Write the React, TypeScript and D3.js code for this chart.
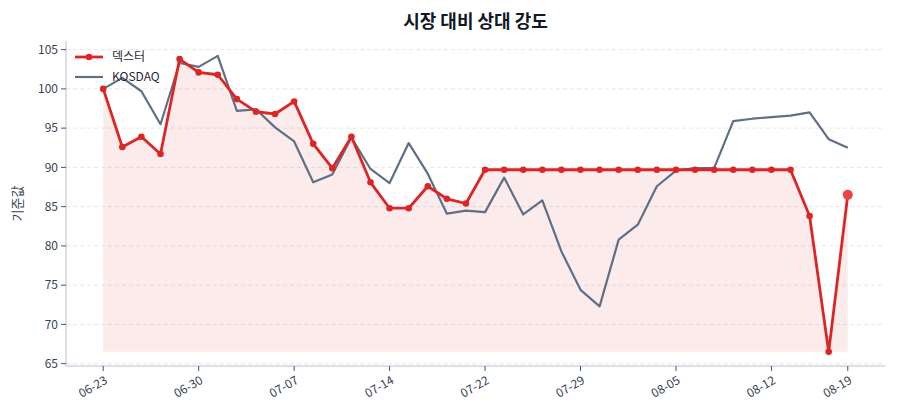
import * as React from 'react';
import * as d3 from 'd3';

// trading-day labels (index positions on the x axis)
const tickIdx = [0, 5, 10, 15, 20, 25, 30, 35, 39];
const tickLabels = ['06-23', '06-30', '07-07', '07-14', '07-22', '07-29', '08-05', '08-12', '08-19'];

const dexter = [
  100, 92.6, 93.9, 91.7, 103.8, 102.1, 101.8, 98.7, 97.1, 96.8,
  98.4, 93.0, 89.9, 93.9, 88.1, 84.8, 84.8, 87.6, 86.0, 85.4,
  89.7, 89.7, 89.7, 89.7, 89.7, 89.7, 89.7, 89.7, 89.7, 89.7,
  89.7, 89.7, 89.7, 89.7, 89.7, 89.7, 89.7, 83.8, 66.5, 86.5,
];

const kosdaq = [
  100, 101.4, 99.7, 95.5, 103.3, 102.8, 104.2, 97.2, 97.4, 95.1,
  93.3, 88.1, 89.1, 93.8, 89.8, 88.0, 93.1, 89.2, 84.1, 84.5,
  84.3, 88.7, 84.0, 85.8, 79.3, 74.4, 72.3, 80.8, 82.7, 87.6,
  89.6, 89.9, 89.9, 95.9, 96.2, 96.4, 96.6, 97.0, 93.6, 92.5,
];

const yTicks = [65, 70, 75, 80, 85, 90, 95, 100, 105];

const RED = '#dc2626';
const SLATE = '#5f6f86';
const FONT = '"Noto Sans CJK KR", "Noto Sans", sans-serif';

export default function App() {
  const width = 900;
  const height = 420;
  const margin = { top: 41, right: 15, bottom: 54, left: 66 };

  const n = dexter.length;
  const pad = (n - 1) * 0.05;
  const x = d3
    .scaleLinear()
    .domain([-pad, n - 1 + pad])
    .range([margin.left, width - margin.right]);

  const y = d3
    .scaleLinear()
    .domain([64.7, 106.1])
    .range([height - margin.bottom, margin.top]);

  const line = d3
    .line<number>()
    .x((_, i) => x(i))
    .y((d) => y(d));

  const minRed = d3.min(dexter) as number;
  const area = d3
    .area<number>()
    .x((_, i) => x(i))
    .y0(y(minRed))
    .y1((d) => y(d));

  const x0 = margin.left;
  const x1 = width - margin.right;
  const yb = height - margin.bottom;

  return (
    <svg
      width={width}
      height={height}
      style={{ position: 'absolute', left: 0, top: 0, background: '#fff' }}
      fontFamily={FONT}
    >
      <text x={(x0 + x1) / 2} y={28} textAnchor="middle" fontSize={18} fontWeight={700} fill="#111827">
        시장 대비 상대 강도
      </text>

      {/* grid */}
      {yTicks.map((t) => (
        <line key={t} x1={x0} x2={x1} y1={y(t)} y2={y(t)} stroke="#e5e7eb" strokeDasharray="4,3" strokeWidth={1} />
      ))}

      <path d={area(dexter) ?? ''} fill={RED} fillOpacity={0.09} />

      <path d={line(kosdaq) ?? ''} fill="none" stroke={SLATE} strokeWidth={2.2} strokeLinejoin="round" />
      <path d={line(dexter) ?? ''} fill="none" stroke={RED} strokeWidth={2.8} strokeLinejoin="round" />
      {dexter.slice(0, n - 1).map((d, i) => (
        <circle key={i} cx={x(i)} cy={y(d)} r={3.3} fill={RED} />
      ))}
      <circle cx={x(n - 1)} cy={y(dexter[n - 1])} r={5} fill="#ef4444" />

      {/* spines */}
      <line x1={x0} x2={x0} y1={margin.top} y2={yb} stroke="#cfd6e0" strokeWidth={1.5} />
      <line x1={x0} x2={x1} y1={yb} y2={yb} stroke="#cfd6e0" strokeWidth={1.5} />

      {yTicks.map((t) => (
        <g key={t} transform={`translate(${x0},${y(t)})`}>
          <line x1={-5} x2={0} stroke="#475569" />
          <text x={-8} dy="0.35em" textAnchor="end" fontSize={12} fill="#374151">
            {t}
          </text>
        </g>
      ))}

      {tickIdx.map((ti, k) => (
        <g key={ti} transform={`translate(${x(ti)},${yb})`}>
          <line y1={0} y2={5} stroke="#475569" />
          <text
            transform="translate(3,13) rotate(-30)"
            textAnchor="end"
            dy="0.35em"
            fontSize={12}
            fill="#374151"
          >
            {tickLabels[k]}
          </text>
        </g>
      ))}

      <text transform={`translate(22,${(margin.top + yb) / 2}) rotate(-90)`} textAnchor="middle" fontSize={13} fill="#374151">
        기준값
      </text>

      {/* legend */}
      <g transform="translate(75,57)">
        <line x1={0} x2={28} stroke={RED} strokeWidth={2.8} />
        <circle cx={14} cy={0} r={3.3} fill={RED} />
        <text x={37} dy="0.35em" fontSize={12} fill="#1f2937">덱스터</text>
      </g>
      <g transform="translate(75,77)">
        <line x1={0} x2={28} stroke={SLATE} strokeWidth={2.2} />
        <text x={37} dy="0.35em" fontSize={12} fill="#1f2937">KOSDAQ</text>
      </g>
    </svg>
  );
}
